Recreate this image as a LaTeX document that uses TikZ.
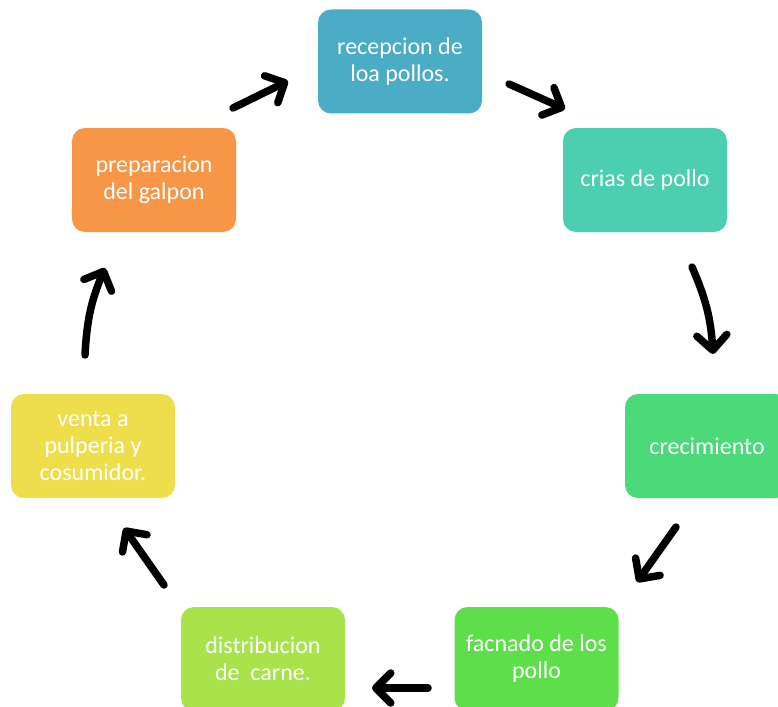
\documentclass[tikz,border=0pt]{standalone}
\usepackage{fontspec}
\setmainfont{Carlito}
\usetikzlibrary{arrows.meta}
\definecolor{stepblue}{HTML}{4BACC6}
\definecolor{stepteal}{HTML}{4BCFB0}
\definecolor{stepgreen}{HTML}{4BD979}
\definecolor{steplime}{HTML}{5EDE4B}
\definecolor{steppale}{HTML}{A8E34B}
\definecolor{stepyellow}{HTML}{EFDE4B}
\definecolor{steporange}{HTML}{F79646}
\begin{document}
\begin{tikzpicture}[x=1pt, y=-1pt,
    stepbox/.style={rounded corners=13pt, minimum width=164pt, minimum height=104pt,
        align=center, text=white, font=\fontsize{24}{27}\selectfont, inner sep=0pt},
    flow/.style={line width=7.5pt, line cap=round,
        -{Straight Barb[length=15pt, width=30pt, round]}}]
    \useasboundingbox (0,0) rectangle (778,706);
    \clip (0,0) rectangle (778,706);

    %the seven steps, clockwise from the top
    \node[stepbox, fill=stepblue] (recepcion) at (400,61.5) {recepcion de\\loa pollos.};
    \node[stepbox, fill=stepteal] (crias) at (645,180) {crias de pollo};
    \node[stepbox, fill=stepgreen] (crecimiento) at (707,446) {crecimiento};
    \node[stepbox, fill=steplime] (facnado) at (536.5,659) {facnado de los\\pollo};
    \node[stepbox, fill=steppale] (distribucion) at (263,659) {distribucion\\de~ carne.};
    \node[stepbox, fill=stepyellow] (venta) at (93,446) {venta a\\pulperia y\\cosumidor.};
    \node[stepbox, fill=steporange] (preparacion) at (154,180) {preparacion\\del galpon};

    %arrow ends
    \coordinate (a1) at (233,108);  \coordinate (a2) at (288,81);
    \coordinate (b1) at (509,84);   \coordinate (b2) at (565,109);
    \coordinate (c1) at (692,267);  \coordinate (c2) at (713,354);
    \coordinate (d1) at (676,527);  \coordinate (d2) at (637,582);
    \coordinate (e1) at (428,688);  \coordinate (e2) at (372,688);
    \coordinate (f1) at (164,585);  \coordinate (f2) at (124,528);
    \coordinate (g1) at (85,355);   \coordinate (g2) at (105,268);

    \draw[flow] (a1) -- (a2);
    \draw[flow] (b1) -- (b2);
    \draw[flow] (c1) to[bend left=10] (c2);
    \draw[flow] (d1) -- (d2);
    \draw[flow] (e1) -- (e2);
    \draw[flow] (f1) -- (f2);
    \draw[flow] (g1) to[bend left=10] (g2);
\end{tikzpicture}
\end{document}
